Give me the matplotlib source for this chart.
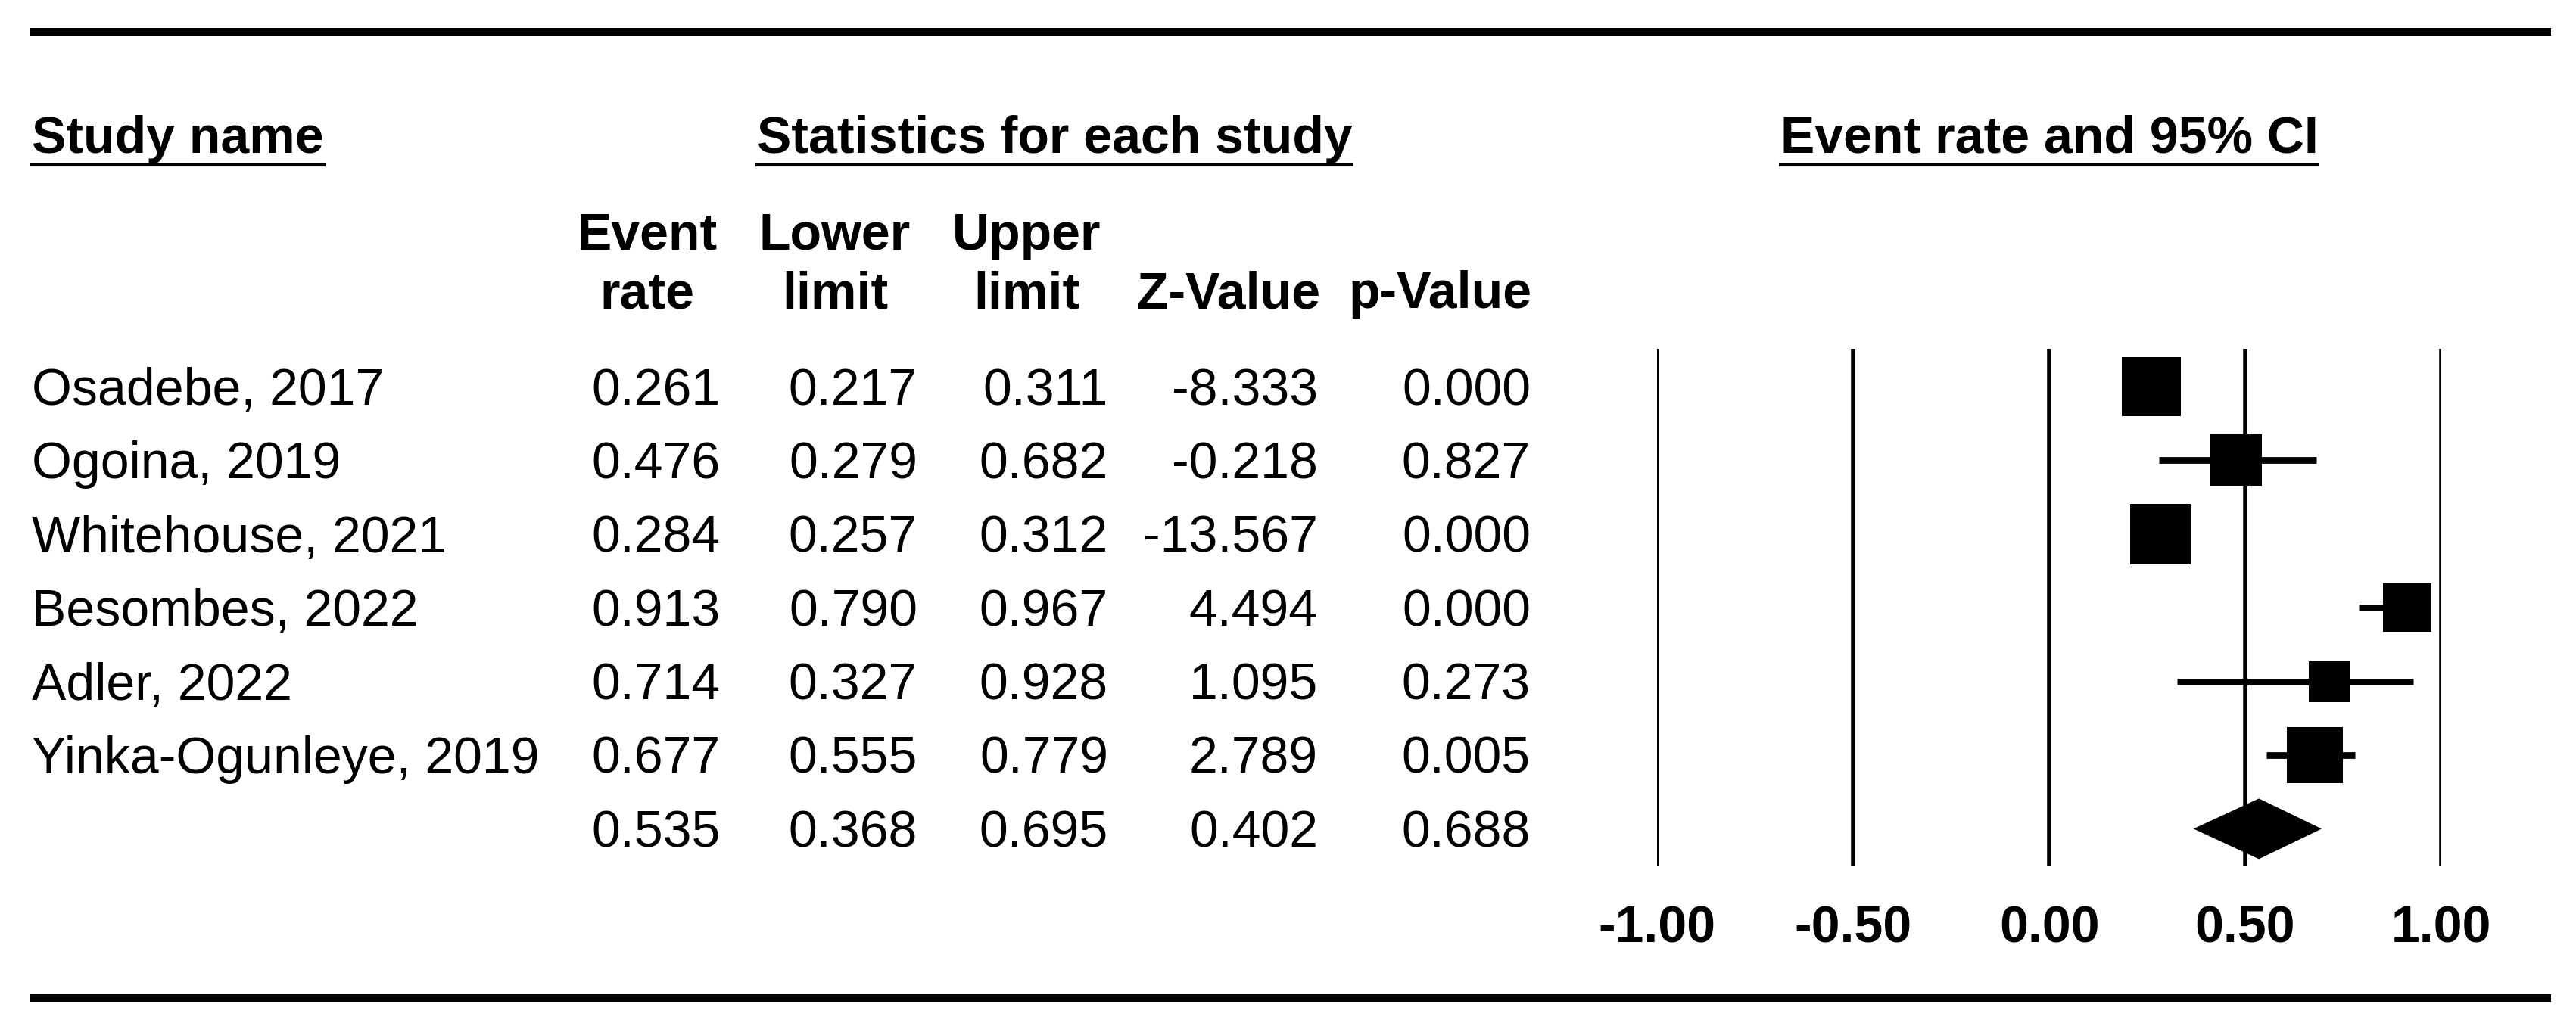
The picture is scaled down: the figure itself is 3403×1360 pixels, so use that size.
import matplotlib
matplotlib.use("Agg")
import matplotlib.pyplot as plt
import matplotlib.transforms as mtransforms
from matplotlib.patches import Polygon

# ---------------- data ----------------
studies = ["Osadebe, 2017", "Ogoina, 2019", "Whitehouse, 2021", "Besombes, 2022",
           "Adler, 2022", "Yinka-Ogunleye, 2019"]
event_rate = [0.261, 0.476, 0.284, 0.913, 0.714, 0.677]
lower_limit = [0.217, 0.279, 0.257, 0.790, 0.327, 0.555]
upper_limit = [0.311, 0.682, 0.312, 0.967, 0.928, 0.779]
z_value = [-8.333, -0.218, -13.567, 4.494, 1.095, 2.789]
p_value = [0.000, 0.827, 0.000, 0.000, 0.273, 0.005]
weights = [20.6, 15.6, 21.6, 13.8, 9.9, 18.5]   # relative weights (%)

summary_rate = 0.535
summary_lower = 0.368
summary_upper = 0.695
summary_z = 0.402
summary_p = 0.688

xticks = [-1.0, -0.5, 0.0, 0.5, 1.0]
xtick_labels = ["-1.00", "-0.50", "0.00", "0.50", "1.00"]

# ---------------- figure ----------------
W, H = 3403, 1360
DPI = 100
fig = plt.figure(figsize=(W / DPI, H / DPI), dpi=DPI)
FONT = "Liberation Sans"
FS = 49

base = fig.add_axes([0, 0, 1, 1])
base.set_xlim(0, W)
base.set_ylim(H, 0)
base.axis("off")

# horizontal rules
base.plot([40, 3370], [42, 42], color="black", lw=7.2, solid_capstyle="butt")
base.plot([40, 3370], [1319, 1319], color="black", lw=7.2, solid_capstyle="butt")

renderer = fig.canvas.get_renderer()


def underline(t, y):
    bb = t.get_window_extent(renderer=renderer)
    inv = base.transData.inverted()
    (x0, _), (x1, _) = inv.transform([(bb.x0, bb.y0), (bb.x1, bb.y0)])
    base.plot([x0 - 2, x1 + 2], [y, y], color="black", lw=3.0, solid_capstyle="butt")


# forest plot axes
left_px, right_px = 2189, 3225
top_px, bot_px = 461, 1144
row0_px, row_step = 511, 97.4
ax = fig.add_axes([left_px / W, 1 - bot_px / H, (right_px - left_px) / W, (bot_px - top_px) / H])
ax.set_xlim(-1, 1)
ax.set_ylim(6 + (bot_px - (row0_px + 6 * row_step)) / row_step, -(row0_px - top_px) / row_step)
ax.axis("off")

# main headers
t = base.text(42, 202, "Study name", fontsize=FS, fontweight="bold", family=FONT,
              ha="left", va="baseline")
underline(t, 218)
t = base.text(1393, 202, "Statistics for each study", fontsize=FS, fontweight="bold",
              family=FONT, ha="center", va="baseline")
underline(t, 218)
blend = mtransforms.blended_transform_factory(ax.transData, base.transData)
t = base.text(0.0, 202, "Event rate and 95% CI", fontsize=FS, fontweight="bold",
              family=FONT, ha="center", va="baseline", transform=blend)
underline(t, 218)

# column headers
col_right = [952, 1212, 1464, 1741, 2022]
hdr = [("Event", "rate", 855), ("Lower", "limit", 1103), ("Upper", "limit", 1356),
       (None, "Z-Value", 1623), (None, "p-Value", 1903)]
for l1, l2, xc in hdr:
    if l1:
        base.text(xc, 330, l1, fontsize=FS, fontweight="bold", family=FONT,
                  ha="center", va="baseline")
    base.text(xc, 407, l2, fontsize=FS, fontweight="bold", family=FONT,
              ha="center", va="baseline")

# table rows
n = len(studies)
for i in range(n + 1):
    yb = row0_px + i * row_step + 24
    if i < n:
        vals = [event_rate[i], lower_limit[i], upper_limit[i], z_value[i], p_value[i]]
        base.text(42, yb, studies[i], fontsize=FS, family=FONT, ha="left", va="baseline")
    else:
        vals = [summary_rate, summary_lower, summary_upper, summary_z, summary_p]
    for xr, v in zip(col_right, vals):
        base.text(xr, yb, f"{v:.3f}", fontsize=FS, family=FONT, ha="right", va="baseline")

# vertical reference lines
for xt in xticks:
    ax.axvline(xt, color="black", lw=4.0, solid_capstyle="butt", zorder=1)

# CIs and boxes
rows = list(range(n))
ax.hlines(rows, lower_limit, upper_limit, color="black", lw=6.3, zorder=2)
k = 17.2  # px per sqrt(weight)
sizes = [(k * w ** 0.5 * 72 / DPI) ** 2 for w in weights]
ax.scatter(event_rate, rows, marker="s", s=sizes, color="black", linewidths=0,
           zorder=3, clip_on=False)

# summary diamond
h = 40 / row_step
ys = n
diamond = Polygon([(summary_lower, ys), (summary_rate, ys - h), (summary_upper, ys),
                   (summary_rate, ys + h)], closed=True, facecolor="black",
                  edgecolor="black", lw=0, zorder=3)
ax.add_patch(diamond)

# tick labels
for xt, lab in zip(xticks, xtick_labels):
    base.text(xt, 1246, lab, fontsize=FS, fontweight="bold", family=FONT,
              ha="center", va="baseline", transform=blend)

fig.savefig("out.png", dpi=DPI, facecolor="white")
